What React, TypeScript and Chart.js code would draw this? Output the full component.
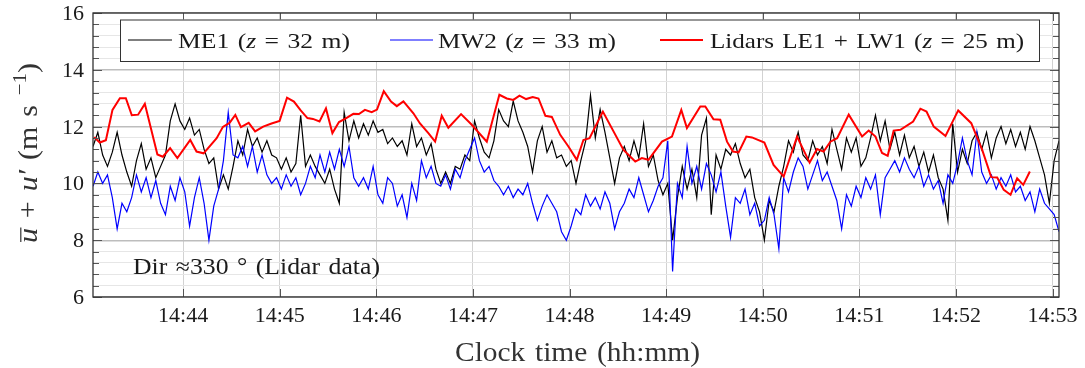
import React, { useEffect, useRef } from "react";
import { Chart, registerables } from "chart.js";

Chart.register(...registerables);

// Mast sonic anemometer samples: first sample time (s after 14:43:00) and sample spacing (s)
const MAST_T0 = 4;
const MAST_STEP = 3;

// ME1 (z = 32 m), m/s
const ME1 = [
  11.3, 11.8, 11.0, 10.6, 11.1, 11.8, 11.0, 10.4, 9.9, 10.8,
  11.4, 10.5, 10.9, 10.2, 10.6, 11.0, 12.2, 12.8, 12.2, 11.9,
  12.3, 11.7, 11.9, 11.2, 10.7, 10.9, 9.8, 10.3, 9.8, 10.6,
  11.5, 11.0, 11.9, 11.3, 11.6, 11.1, 11.5, 11.0, 10.9, 10.5,
  10.9, 10.4, 10.7, 12.4, 10.6, 11.0, 10.6, 10.3, 10.0, 10.5,
  9.8, 9.3, 12.5, 11.5, 12.2, 11.6, 12.1, 11.7, 12.2, 11.8,
  11.9, 11.4,
  11.6, 11.3, 11.5, 11.0, 12.1, 11.3, 11.6, 11.0, 11.4, 10.5,
  10.0, 10.4, 10.0, 10.6, 10.5, 11.0, 10.8, 12.2, 11.6, 11.1,
  10.9, 11.5, 12.6, 12.2, 12.0, 12.9, 12.2, 11.8, 11.3, 10.4,
  11.5, 12.0, 11.1, 11.5, 10.9, 11.0, 10.6, 10.8, 10.0, 10.8,
  11.5, 13.1, 11.6, 12.6, 11.8, 10.9, 10.0, 10.9, 11.3, 10.8,
  11.5, 10.9, 12.1, 10.6, 11.0, 10.1, 9.6, 10.0, 8.0, 9.5,
  10.6, 9.8, 10.5, 9.5, 11.7, 12.3, 8.9, 11.0, 10.5, 11.2,
  11.0, 11.4, 10.7, 10.2, 10.5, 9.5, 9.0, 8.0, 9.4, 9.0,
  9.9, 10.6, 11.5, 11.1, 11.8, 11.0, 10.8, 11.5, 11.0, 11.3,
  10.7, 11.9, 11.2, 10.5, 11.6, 11.1, 11.6, 10.6, 10.9, 11.6,
  12.4, 11.5, 12.2, 11.2, 11.8, 11.0, 11.7, 10.9, 11.3, 10.6,
  11.1, 10.4, 11.0, 10.2, 9.8, 8.7, 12.1, 10.4, 11.2, 10.7,
  11.5, 11.8, 11.2, 11.8, 10.9, 11.6, 12.0, 11.4, 11.9, 11.3,
  11.8, 11.2, 12.0, 11.5, 10.9, 10.3, 9.3, 10.8, 11.5,
];

// MW2 (z = 33 m), m/s
const MW2 = [
  9.9, 10.4, 10.0, 10.3, 9.5, 8.4, 9.3, 9.0, 9.5, 10.3,
  9.7, 10.2, 9.5, 10.1, 9.3, 8.9, 9.9, 9.4, 10.2, 9.7,
  8.5, 9.5, 10.2, 9.3, 8.0, 9.2, 9.8, 10.8, 12.5, 11.0,
  10.9, 11.3, 10.6, 11.3, 10.4, 11.0, 10.3, 10.0, 10.2, 9.8,
  10.3, 9.9, 10.2, 9.6, 10.0, 10.6, 10.2, 11.0, 10.4, 11.1,
  10.5, 11.2, 10.6, 11.3, 10.2, 9.9, 10.2, 9.8, 10.6, 9.6,
  9.3, 10.2,
  10.0, 9.2, 9.6, 8.8, 10.0, 9.4, 10.8, 10.2, 10.6, 10.0,
  9.9, 10.3, 9.8, 10.5, 10.2, 10.8, 11.2, 11.6, 10.8, 10.4,
  10.6, 10.1, 9.9, 9.6, 9.9, 9.5, 9.8, 9.6, 10.0, 9.3,
  8.7, 9.2, 9.6, 9.3, 9.0, 8.3, 8.0, 8.5, 9.1, 8.9,
  9.6, 9.2, 9.5, 9.1, 9.7, 9.3, 8.4, 9.0, 9.3, 9.8,
  9.5, 10.2, 9.6, 9.0, 9.4, 9.9, 10.2, 11.5, 6.9, 10.0,
  9.5, 11.3, 10.0, 10.6, 9.8, 10.7, 10.3, 9.7, 10.4, 9.2,
  8.1, 9.5, 9.3, 9.8, 8.9, 9.3, 8.5, 8.7, 9.5, 8.9,
  7.7, 10.2, 9.7, 10.4, 10.9, 10.6, 9.8, 10.3, 10.8, 10.1,
  10.4, 9.9, 9.4, 8.4, 9.6, 9.2, 9.9, 9.5, 10.2, 9.8,
  10.3, 8.9, 10.2, 10.5, 10.8, 10.4, 10.9, 10.5, 10.2, 10.6,
  9.9, 10.3, 9.8, 10.1, 9.3, 10.3, 10.0, 10.7, 11.6, 10.8,
  10.3, 11.8, 10.4, 10.0, 10.3, 9.8, 10.2, 9.9, 10.3, 9.7,
  9.9, 9.4, 9.7, 9.0, 9.8, 9.3, 9.1, 8.9, 8.3,
];

// Lidars LE1 + LW1 (z = 25 m): sample times (s after 14:43:00) and speeds (m/s)
const LIDAR_T = [
  4.7, 8.2, 12.0, 16.1, 20.7, 24.4, 28.1, 32.0, 36.2, 44.0,
  47.4, 51.9, 56.4, 64.4, 68.3, 72.7, 80.8, 84.7, 88.8, 92.4,
  95.9, 100.7, 104.7, 109.7, 114.9, 119.9, 124.5, 128.8, 133.0, 137.2,
  140.6, 144.7, 148.7, 152.7, 156.8, 161.3, 165.7, 169.2, 172.9, 177.1,
  180.4, 184.6, 189.1, 192.7, 196.8, 203.0, 207.1, 212.3, 216.5, 220.6,
  224.7, 232.6, 238.8, 248.6, 256.4, 261.0, 265.1, 268.9, 273.0, 277.1,
  280.7, 285.0, 289.0, 294.2, 299.3, 304.5, 308.6, 312.4, 320.7, 333.5,
  340.8, 344.9, 349.0, 357.4, 363.6, 369.4, 372.9, 381.2, 384.3, 389.4,
  393.6, 397.8, 401.5, 405.0, 409.8, 413.3, 421.0, 426.7, 433.0, 441.3,
  449.1, 453.7, 457.8, 462.0, 466.2, 473.4, 481.7, 485.8, 490.0, 494.1,
  497.6, 501.3, 505.5, 513.4, 517.9, 521.7, 526.2, 533.5, 541.4, 549.5,
  556.3, 561.9, 565.6, 569.7, 573.9, 578.0, 581.8, 585.9,
];
const LIDAR_V = [
  11.63, 11.44, 11.52, 12.59, 13.0, 13.0, 12.4, 12.42, 12.8, 11.02,
  10.94, 11.24, 10.89, 11.53, 11.12, 11.06, 11.59, 11.99, 12.13, 12.41,
  11.98, 12.13, 11.83, 12.0, 12.11, 12.2, 13.02, 12.88, 12.57, 12.3,
  12.27, 12.18, 12.64, 11.77, 12.16, 12.3, 12.45, 12.44, 12.59, 12.51,
  12.6, 13.25, 12.88, 12.72, 12.89, 12.47, 12.11, 11.77, 11.47, 12.38,
  11.96, 12.44, 12.09, 11.47, 13.12, 12.99, 12.94, 13.09, 12.97, 13.04,
  12.99, 12.38, 12.34, 11.71, 11.3, 10.83, 11.53, 11.59, 12.53, 11.18,
  10.77, 10.89, 10.83, 11.47, 11.65, 12.59, 11.95, 12.71, 12.71, 12.26,
  12.24, 11.47, 11.12, 11.09, 11.65, 11.62, 11.44, 10.65, 10.24, 11.65,
  10.73, 11.21, 11.12, 11.47, 11.59, 12.42, 11.65, 11.86, 11.65, 11.07,
  10.97, 11.86, 11.89, 12.18, 12.63, 12.53, 12.0, 11.67, 12.57, 12.12,
  11.18, 10.22, 10.21, 9.77, 9.6, 10.18, 9.95, 10.42,
];

const X_MIN = 4;
const X_MAX = 604;
const X_TICKS = [60, 120, 180, 240, 300, 360, 420, 480, 540, 600];
const X_TICK_LABELS = ["14:44", "14:45", "14:46", "14:47", "14:48", "14:49", "14:50", "14:51", "14:52", "14:53"];
const Y_MIN = 6;
const Y_MAX = 16;
const Y_TICKS = [6, 8, 10, 12, 14, 16];
const Y_TICK_LABELS = ["6", "8", "10", "12", "14", "16"];
const Y_GRID = [6, 6.4, 6.8, 7.2, 7.6, 8, 8.4, 8.8, 9.2, 9.6, 10, 10.4, 10.8, 11.2, 11.6, 12, 12.4, 12.8, 13.2, 13.6, 14, 14.4, 14.8, 15.2, 15.6, 16];

const FAMILY = '"Liberation Serif", "Times New Roman", serif';

type Seg = { t: string; it?: boolean; sup?: boolean; bar?: boolean };

function fontOf(s: { it?: boolean; sup?: boolean }, size: number) {
  const sz = s.sup ? size * 0.7 : size;
  return `${s.it ? "italic " : ""}${sz}px ${FAMILY}`;
}

// Draws mixed-style text; if a target width is given the run is stretched horizontally to it
function drawRich(ctx: CanvasRenderingContext2D, segs: Seg[], x: number, baseY: number, size: number, target?: number) {
  const toks: { t: string; it: boolean; sup: boolean; bar: boolean; space: boolean; w: number }[] = [];
  for (const s of segs) {
    const parts = s.t.split(/( )/).filter((p) => p.length > 0);
    for (const p of parts) {
      ctx.font = fontOf(s, size);
      toks.push({ t: p, it: !!s.it, sup: !!s.sup, bar: !!s.bar, space: p === " ", w: ctx.measureText(p).width });
    }
  }
  const extra = size * 0.08;
  const nat = toks.reduce((a, t) => a + t.w + (t.space ? extra : 0), 0);
  const sx = target ? target / nat : 1;
  ctx.save();
  ctx.translate(x, 0);
  ctx.scale(sx, 1);
  ctx.textAlign = "left";
  ctx.textBaseline = "alphabetic";
  let cx = 0;
  for (const t of toks) {
    if (t.space) {
      cx += t.w + extra;
      continue;
    }
    ctx.font = fontOf(t, size);
    const y = t.sup ? baseY - size * 0.42 : baseY;
    ctx.fillText(t.t, cx, y);
    if (t.bar) {
      ctx.save();
      ctx.strokeStyle = ctx.fillStyle as string;
      ctx.lineWidth = 1.2;
      ctx.beginPath();
      ctx.moveTo(cx + 1, baseY - size * 0.6);
      ctx.lineTo(cx + t.w + 0.5, baseY - size * 0.6);
      ctx.stroke();
      ctx.restore();
    }
    cx += t.w;
  }
  ctx.restore();
}

const isMajor = (v: number) => Math.abs(v / 2 - Math.round(v / 2)) < 1e-6;

const decoPlugin = {
  id: "deco",
  afterDatasetsDraw(chart: any) {
    const ctx: CanvasRenderingContext2D = chart.ctx;
    const { left, right, top, bottom } = chart.chartArea;
    const xs = chart.scales.x;
    const ys = chart.scales.y;
    ctx.save();
    // tick marks (inward, both sides)
    ctx.strokeStyle = "#555";
    ctx.lineWidth = 1;
    ctx.beginPath();
    for (const v of Y_GRID) {
      const y = Math.round(ys.getPixelForValue(v)) + 0.5;
      const len = isMajor(v) ? 9 : 6;
      ctx.moveTo(left, y);
      ctx.lineTo(left + len, y);
      ctx.moveTo(right, y);
      ctx.lineTo(right - len, y);
    }
    for (const v of X_TICKS) {
      const x = Math.round(xs.getPixelForValue(v)) + 0.5;
      ctx.moveTo(x, bottom);
      ctx.lineTo(x, bottom - 8);
      ctx.moveTo(x, top);
      ctx.lineTo(x, top + 8);
    }
    ctx.stroke();
    // frame
    ctx.strokeStyle = "#333";
    ctx.lineWidth = 1.3;
    ctx.strokeRect(left, top, right - left, bottom - top);

    // legend
    const bx = 120, by = 19.5, bw = 919, bh = 41.5;
    ctx.fillStyle = "#fff";
    ctx.fillRect(bx, by, bw, bh);
    ctx.strokeStyle = "#333";
    ctx.lineWidth = 1;
    ctx.strokeRect(bx + 0.5, by + 0.5, bw, bh);
    const items = [
      { color: "#000", lw: 1.2, x0: 128, x1: 172, tx: 178, tw: 172, segs: [{ t: "ME1 (" }, { t: "z", it: true }, { t: " = 32 m)" }] },
      { color: "#0000ff", lw: 1.2, x0: 390, x1: 433, tx: 438, tw: 178, segs: [{ t: "MW2 (" }, { t: "z", it: true }, { t: " = 33 m)" }] },
      { color: "#ff0000", lw: 2, x0: 660, x1: 703, tx: 710, tw: 314, segs: [{ t: "Lidars LE1 + LW1 (" }, { t: "z", it: true }, { t: " = 25 m)" }] },
    ];
    for (const it of items) {
      ctx.strokeStyle = it.color;
      ctx.lineWidth = it.lw;
      ctx.beginPath();
      ctx.moveTo(it.x0, 40);
      ctx.lineTo(it.x1, 40);
      ctx.stroke();
      ctx.fillStyle = "#1a1a1a";
      drawRich(ctx, it.segs, it.tx, 47.5, 22, it.tw);
    }

    // annotation
    ctx.fillStyle = "#1a1a1a";
    drawRich(ctx, [{ t: "Dir ≈330 ° (Lidar data)" }], 133, 273.5, 23, 247);
    ctx.restore();
  },
  afterDraw(chart: any) {
    const ctx: CanvasRenderingContext2D = chart.ctx;
    const xs = chart.scales.x;
    const ys = chart.scales.y;
    ctx.save();
    ctx.fillStyle = "#1a1a1a";
    ctx.font = `22px ${FAMILY}`;
    ctx.textBaseline = "alphabetic";
    ctx.textAlign = "right";
    Y_TICKS.forEach((v, i) => {
      ctx.fillText(Y_TICK_LABELS[i], 84, ys.getPixelForValue(v) + 7);
    });
    ctx.textAlign = "center";
    X_TICKS.forEach((v, i) => {
      ctx.fillText(X_TICK_LABELS[i], xs.getPixelForValue(v), 321.5);
    });
    // x title
    ctx.fillStyle = "#333";
    drawRich(ctx, [{ t: "Clock time (hh:mm)" }], 455, 361, 28, 245);
    // y title
    ctx.translate(37, 153);
    ctx.rotate(-Math.PI / 2);
    drawRich(
      ctx,
      [{ t: "u", it: true, bar: true }, { t: " + " }, { t: "u′", it: true }, { t: " (m s " }, { t: "−1", sup: true }, { t: ")" }],
      -90,
      0,
      27,
      180
    );
    ctx.restore();
  },
};

export default function App() {
  const ref = useRef<HTMLCanvasElement>(null);
  useEffect(() => {
    document.body.style.margin = "0";
    const canvas = ref.current;
    if (!canvas) return;
    const chart = new Chart(canvas, {
      type: "line",
      data: {
        datasets: [
          {
            label: "ME1 (z = 32 m)",
            data: ME1.map((v, i) => ({ x: MAST_T0 + i * MAST_STEP, y: v })),
            borderColor: "#000000",
            borderWidth: 1.2,
            pointRadius: 0,
            tension: 0,
            order: 3,
          },
          {
            label: "MW2 (z = 33 m)",
            data: MW2.map((v, i) => ({ x: MAST_T0 + i * MAST_STEP, y: v })),
            borderColor: "#0000ff",
            borderWidth: 1.2,
            pointRadius: 0,
            tension: 0,
            order: 2,
          },
          {
            label: "Lidars LE1 + LW1 (z = 25 m)",
            data: LIDAR_T.map((t, i) => ({ x: t, y: LIDAR_V[i] })),
            borderColor: "#ff0000",
            borderWidth: 2,
            pointRadius: 0,
            tension: 0,
            order: 1,
          },
        ],
      },
      options: {
        animation: false,
        responsive: true,
        maintainAspectRatio: false,
        layout: { padding: { top: 13, right: 26, left: 0, bottom: 0 } },
        plugins: { legend: { display: false }, tooltip: { enabled: false } },
        scales: {
          x: {
            type: "linear",
            min: X_MIN,
            max: X_MAX,
            afterBuildTicks: (s: any) => {
              s.ticks = X_TICKS.map((v) => ({ value: v }));
            },
            afterFit: (s: any) => {
              s.height = 71;
            },
            ticks: { display: false },
            grid: { color: "#d2d2d2", lineWidth: 1, drawTicks: false },
            border: { display: false },
          },
          y: {
            type: "linear",
            min: Y_MIN,
            max: Y_MAX,
            afterBuildTicks: (s: any) => {
              s.ticks = Y_GRID.map((v) => ({ value: v }));
            },
            afterFit: (s: any) => {
              s.width = 93;
            },
            ticks: { display: false },
            grid: {
              color: (c: any) => (isMajor(c.tick.value) ? "#bdbdbd" : "#e6e6e6"),
              lineWidth: (c: any) => (isMajor(c.tick.value) ? 1.4 : 1),
              drawTicks: false,
            },
            border: { display: false },
          },
        },
      },
      plugins: [decoPlugin],
    });
    return () => chart.destroy();
  }, []);
  return (
    <div style={{ width: 1085, height: 368, position: "relative", background: "#fff" }}>
      <canvas ref={ref} />
    </div>
  );
}
